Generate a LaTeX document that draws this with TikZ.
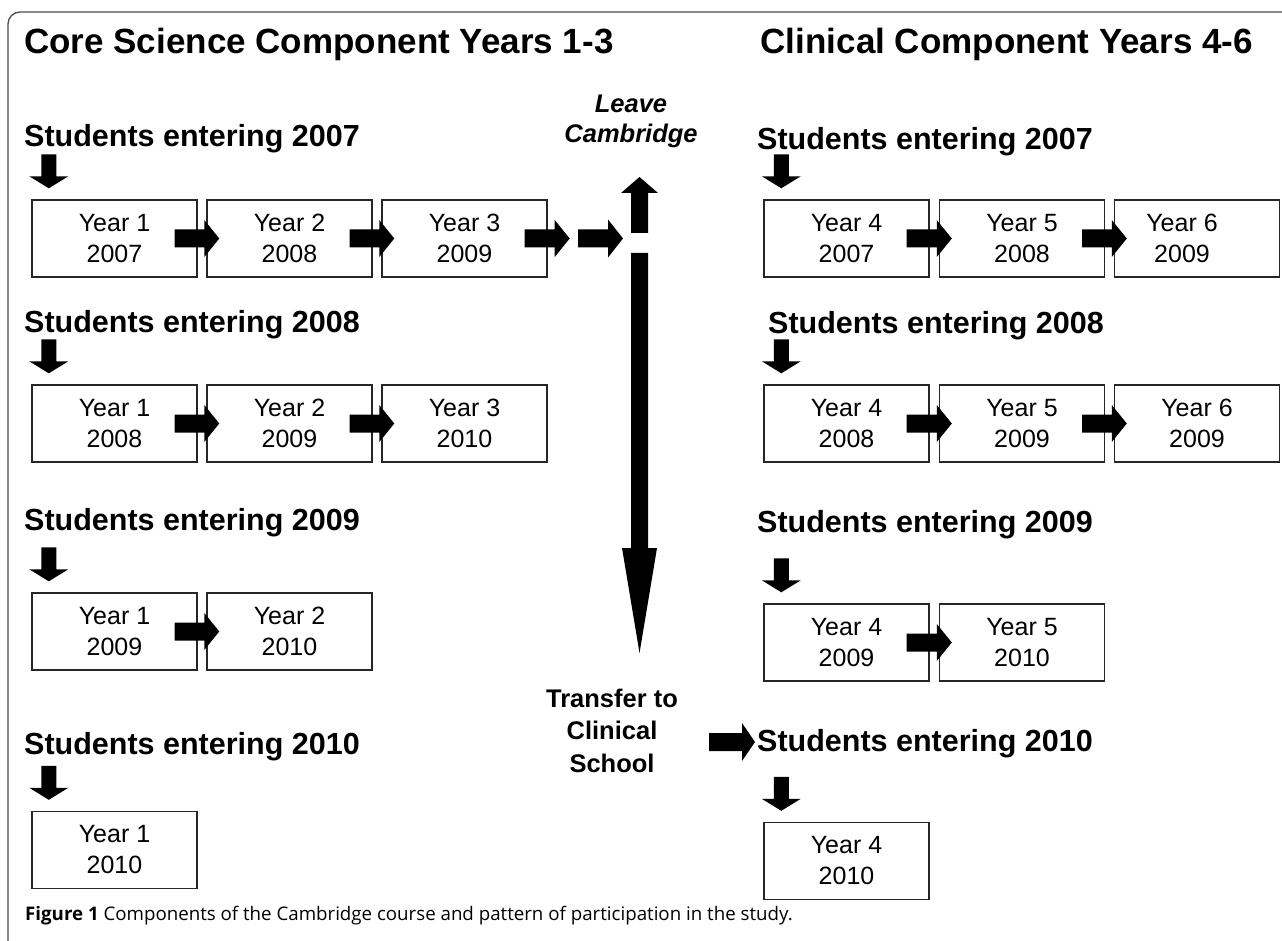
\documentclass[tikz,border=0pt]{standalone}
\usepackage{fontspec}
\setmainfont{Liberation Sans}
\newfontfamily\capfont{Open Sans}
\usetikzlibrary{calc}
\newcommand\fatarrow[5]{%
  \path #1 coordinate (fa-a);
  \path #2 coordinate (fa-b);
  \path ($(fa-b)!#5!(fa-a)$) coordinate (fa-h);
  \fill[arrowfill] ($(fa-a)!#3!90:(fa-b)$) -- ($(fa-h)!#3!90:(fa-b)$) -- ($(fa-h)!#4!90:(fa-b)$) -- (fa-b) -- ($(fa-h)!#4!-90:(fa-b)$) -- ($(fa-h)!#3!-90:(fa-b)$) -- ($(fa-a)!#3!-90:(fa-b)$) -- cycle;}
\newcommand\harrow[2]{\fatarrow{([xshift=-23pt]#1.east)}{([xshift=13pt]#2.west)}{9pt}{18.5pt}{15pt}}
\newcommand\dnarrow[2]{\fatarrow{([xshift=#2,yshift=45pt]#1.north west)}{([xshift=#2,yshift=11pt]#1.north west)}{7.5pt}{19.5pt}{12pt}}
\begin{document}
\begin{tikzpicture}[x=1pt,y=-1pt,
  yearbox/.style={draw=black!85, line width=1.4pt, fill=white, minimum width=165pt, minimum height=77pt, inner sep=0pt, align=center, font=\fontsize{25}{31}\selectfont},
  heading/.style={anchor=base west, inner sep=0pt, font=\fontsize{30.5}{36}\selectfont\bfseries},
  bigtitle/.style={inner sep=0pt, font=\fontsize{35}{40}\selectfont\bfseries},
  sidenote/.style={inner sep=0pt, align=center, anchor=base},
  arrowfill/.style={fill=black},
  framecol/.style={draw=black!70, line width=1.3pt}]
\useasboundingbox (0,0) rectangle (1282,941);
\fill[white] (0,0) rectangle (1282,941);
\draw[framecol, rounded corners=12pt] (8,950) -- (8,12) -- (1290,12);

% titles
\node[bigtitle, anchor=base west] (tl) at (24,54) {Core Science Component Years 1-3};
\node[bigtitle, anchor=base east] (tr) at (1253,54) {Clinical Component Years 4-6};

% side notes (base anchor = last line)
\node[sidenote, font=\fontsize{25.5}{30}\selectfont\bfseries\itshape] (leave) at (631,143) {Leave\\Cambridge};
\node[sidenote, font=\fontsize{25.5}{32.5}\selectfont\bfseries] (transfer) at (612,772) {Transfer to\\Clinical\\School};

% headings left
\node[heading] (SL1) at (24,147) {Students entering 2007};
\node[heading] (SL2) at (24,332) {Students entering 2008};
\node[heading] (SL3) at (24,530) {Students entering 2009};
\node[heading] (SL4) at (24,754) {Students entering 2010};
% headings right
\node[heading] (SR1) at (757,150) {Students entering 2007};
\node[heading] (SR2) at (768,333) {Students entering 2008};
\node[heading] (SR3) at (757,532) {Students entering 2009};
\node[heading] (SR4) at (757,751) {Students entering 2010};

% left boxes
\node[yearbox] (L11) at (114.5,238.5) {Year 1\\2007};
\node[yearbox] (L12) at (289.5,238.5) {Year 2\\2008};
\node[yearbox] (L13) at (464.5,238.5) {Year 3\\2009};
\node[yearbox] (L21) at (114.5,423.5) {Year 1\\2008};
\node[yearbox] (L22) at (289.5,423.5) {Year 2\\2009};
\node[yearbox] (L23) at (464.5,423.5) {Year 3\\2010};
\node[yearbox] (L31) at (114.5,631.5) {Year 1\\2009};
\node[yearbox] (L32) at (289.5,631.5) {Year 2\\2010};
\node[yearbox] (L41) at (114.5,850) {Year 1\\2010};
% right boxes
\node[yearbox] (R11) at (846.5,238.5) {Year 4\\2007};
\node[yearbox] (R12) at (1022,238.5) {Year 5\\2008};
\node[yearbox] (R13) at (1197,238.5) {Year 6\hspace*{30pt}\\2009\hspace*{30pt}};
\node[yearbox] (R21) at (846.5,423.5) {Year 4\\2008};
\node[yearbox] (R22) at (1022,423.5) {Year 5\\2009};
\node[yearbox] (R23) at (1197,423.5) {Year 6\\2009};
\node[yearbox] (R31) at (846.5,642.5) {Year 4\\2009};
\node[yearbox] (R32) at (1022,642.5) {Year 5\\2010};
\node[yearbox] (R41) at (846.5,861) {Year 4\\2010};

% horizontal arrows
\harrow{L11}{L12}
\harrow{L12}{L13}
\harrow{L21}{L22}
\harrow{L22}{L23}
\harrow{L31}{L32}
\harrow{R11}{R12}
\harrow{R12}{R13}
\harrow{R21}{R22}
\harrow{R22}{R23}
\harrow{R31}{R32}
\fatarrow{([xshift=-23pt]L13.east)}{([xshift=22pt]L13.east)}{9pt}{18.5pt}{15pt}
\coordinate (a4s) at (578,238.5);
\coordinate (a4t) at (623,238.5);
\fatarrow{(a4s)}{(a4t)}{9pt}{19pt}{15pt}

% down arrows
\dnarrow{L11}{17.5pt}
\dnarrow{L21}{17.5pt}
\dnarrow{L31}{17.5pt}
\dnarrow{L41}{17.5pt}
\dnarrow{R11}{18pt}
\dnarrow{R21}{18pt}
\dnarrow{R31}{18pt}
\dnarrow{R41}{18pt}

% central vertical arrows
\coordinate (upstart) at (639.5,233);
\coordinate (uptip) at (639.5,177);
\fatarrow{(upstart)}{(uptip)}{8.5pt}{18.5pt}{16pt}
\coordinate (dnstart) at (639.5,253);
\coordinate (dntip) at (639.5,653);
\fatarrow{(dnstart)}{(dntip)}{8.5pt}{17.5pt}{105pt}

% transfer arrow
\coordinate (trs) at (709,742);
\path (trs -| SR4.west) coordinate (trt0);
\fatarrow{(trs)}{([xshift=-2pt]trt0)}{9pt}{19pt}{13pt}

% caption
\node[anchor=base west, inner sep=0pt, font=\capfont\fontsize{18.7}{22}\selectfont] (cap) at (25,920) {\textbf{Figure 1} Components of the Cambridge course and pattern of participation in the study.};
\end{tikzpicture}
\end{document}
